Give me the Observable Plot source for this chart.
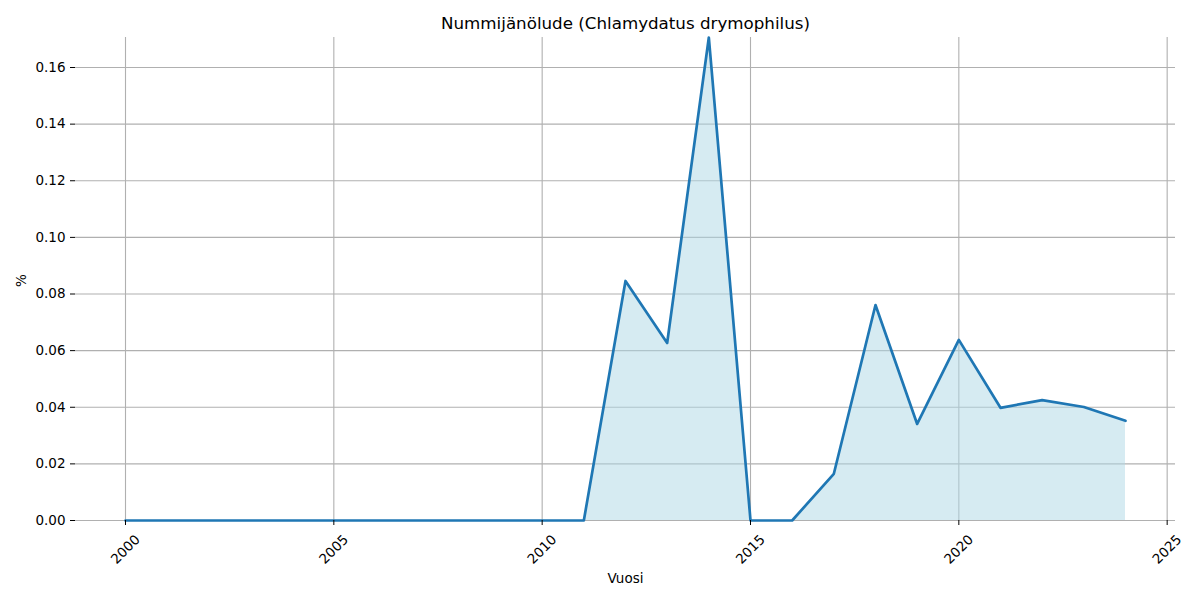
<!DOCTYPE html>
<html>
<head>
<meta charset="utf-8">
<script src="https://cdn.jsdelivr.net/npm/d3@7"></script>
<script src="https://cdn.jsdelivr.net/npm/@observablehq/plot@0.6"></script>
<style>
  html, body { margin: 0; padding: 0; background: #fff; }
  svg { display: block; }
</style>
</head>
<body>
<div id="chart"></div>
<script>
const years = [2000, 2001, 2002, 2003, 2004, 2005, 2006, 2007, 2008, 2009, 2010, 2011, 2012, 2013, 2014, 2015, 2016, 2017, 2018, 2019, 2020, 2021, 2022, 2023, 2024];
const values = [0, 0, 0, 0, 0, 0, 0, 0, 0, 0, 0, 0, 0.0846, 0.0627, 0.1706, 0, 0, 0.0165, 0.0761, 0.0341, 0.0638, 0.0398, 0.0425, 0.0401, 0.0352];
const xTicks = [2000, 2005, 2010, 2015, 2020, 2025];
const yTicks = [0, 0.02, 0.04, 0.06, 0.08, 0.10, 0.12, 0.14, 0.16];
const title = "Nummijänölude (Chlamydatus drymophilus)";
const xLabel = "Vuosi";
const yLabel = "%";

const data = years.map((y, i) => ({year: y, value: values[i]}));
const yMax = d3.max(values);

const font = "DejaVu Sans, sans-serif";
const chart = Plot.plot({
  width: 1200,
  height: 600,
  marginLeft: 75,
  marginRight: 25,
  marginTop: 37,
  marginBottom: 80,
  style: {fontFamily: font, fontSize: "13.5px", color: "#000", background: "#fff"},
  x: {domain: [1998.8, 2025.2]},
  y: {domain: [0, yMax]},
  marks: [
    Plot.gridX(xTicks, {stroke: "#b0b0b0", strokeOpacity: 1, strokeWidth: 1.1}),
    Plot.gridY(yTicks, {stroke: "#b0b0b0", strokeOpacity: 1, strokeWidth: 1.1}),
    Plot.areaY(data, {x: "year", y: "value", fill: "lightblue", fillOpacity: 0.5}),
    Plot.lineY(data, {x: "year", y: "value", stroke: "#1f77b4", strokeWidth: 2.7}),
    Plot.axisY({ticks: yTicks, tickFormat: d3.format(".2f"), tickSize: 5, tickPadding: 5, label: null, fontSize: "13.5px"}),
    Plot.axisX({ticks: xTicks, tickFormat: () => "", tickSize: 5, label: null}),
    Plot.text(xTicks, {x: d => d, frameAnchor: "bottom", lineAnchor: "middle", dy: 29, rotate: -45, textAnchor: "middle", text: d => String(d), fontSize: 13.5}),
    Plot.text([title], {frameAnchor: "top", lineAnchor: "middle", dy: -14, fontSize: 16.7, text: d => d}),
    Plot.text([xLabel], {frameAnchor: "bottom", lineAnchor: "middle", dy: 58, fontSize: 13.5, text: d => d}),
    Plot.text([yLabel], {frameAnchor: "left", lineAnchor: "middle", dx: -54, dy: 8, rotate: -90, fontSize: 13.5, text: d => d})
  ]
});
document.getElementById("chart").appendChild(chart);
</script>
</body>
</html>
